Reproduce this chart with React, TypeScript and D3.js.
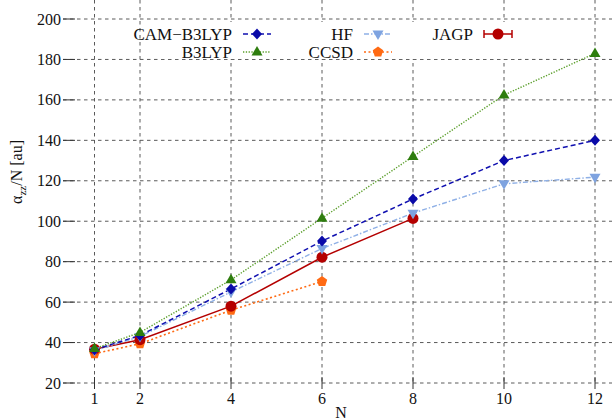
import React from "react";
import * as d3 from "d3";

const xsAll = [1, 2, 4, 6, 8, 10, 12];
const xTicks = [1, 2, 4, 6, 8, 10, 12];
const yTicks = [20, 40, 60, 80, 100, 120, 140, 160, 180, 200];

const camB3lyp = [36.5, 43.5, 66.5, 90.2, 111, 130, 140];
const hf = [36, 43, 65, 86.5, 104, 118.5, 121.8];
const b3lyp = [37, 45, 71, 101.5, 132, 162.4, 183];
const ccsd = [34.5, 39.4, 56, 70.2];
const jagp = [36.7, 41.4, 58, 82.2, 101.4];

const W = 615;
const H = 420;

const x = d3.scaleLinear().domain([1, 12]).range([94.5, 595]);
const y = d3.scaleLinear().domain([20, 200]).range([383, 19]);

const FONT = "Liberation Serif, DejaVu Serif, serif";

type Series = {
  name: string;
  values: number[];
  line: string;
  marker: string;
  dash: string;
  width: number;
  shape: string;
  legendCol: number;
  legendRow: number;
};

const series: Series[] = [
  { name: "CCSD", values: ccsd, line: "#ff6a13", marker: "#ff6a13", dash: "2,2.5", width: 1.6, shape: "pentagon", legendCol: 1, legendRow: 1 },
  { name: "JAGP", values: jagp, line: "#b40000", marker: "#b40000", dash: "", width: 1.5, shape: "circle", legendCol: 2, legendRow: 0 },
  { name: "HF", values: hf, line: "#8fb0e6", marker: "#7ea3e0", dash: "5,2,1.5,2", width: 1.4, shape: "triDown", legendCol: 1, legendRow: 0 },
  { name: "CAM\u2212B3LYP", values: camB3lyp, line: "#1010b0", marker: "#0a0aa8", dash: "5,3", width: 1.5, shape: "diamond", legendCol: 0, legendRow: 0 },
  { name: "B3LYP", values: b3lyp, line: "#5a9e2a", marker: "#2e7d0e", dash: "1.3,1.5", width: 1.4, shape: "triUp", legendCol: 0, legendRow: 1 },
];

function Marker({ shape, cx, cy, color }: { shape: string; cx: number; cy: number; color: string }) {
  if (shape === "circle") return <circle cx={cx} cy={cy} r={5.5} fill={color} />;
  if (shape === "diamond")
    return <path d={`M${cx},${cy - 5.5}L${cx + 5},${cy}L${cx},${cy + 5.5}L${cx - 5},${cy}Z`} fill={color} />;
  if (shape === "triUp")
    return <path d={`M${cx},${cy - 6}L${cx + 5.5},${cy + 3.5}L${cx - 5.5},${cy + 3.5}Z`} fill={color} />;
  if (shape === "triDown")
    return <path d={`M${cx},${cy + 6}L${cx + 5.5},${cy - 3.5}L${cx - 5.5},${cy - 3.5}Z`} fill={color} />;
  const r = 5.5;
  const pts = d3.range(5).map((i) => {
    const a = -Math.PI / 2 + (i * 2 * Math.PI) / 5;
    return `${cx + r * Math.cos(a)},${cy + r * Math.sin(a)}`;
  });
  return <polygon points={pts.join(" ")} fill={color} />;
}

export default function App() {
  const lineGen = d3
    .line<[number, number]>()
    .x((d) => x(d[0]))
    .y((d) => y(d[1]));

  const gridColor = "#5a5a5a";
  const legendTextX = [232, 353, 473];
  const legendRowY = [34, 52];
  const ts = { fontFamily: FONT };

  return (
    <svg width={W} height={H} style={{ position: "absolute", left: 0, top: 0, fontFamily: FONT }}>
      <rect width={W} height={H} fill="#fff" />
      {yTicks.map((t) => (
        <line key={"gy" + t} x1={63} x2={612} y1={y(t)} y2={y(t)} stroke={gridColor} strokeWidth={1} strokeDasharray="3.5,3.5" />
      ))}
      {xTicks.map((t) => (
        <line key={"gx" + t} x1={x(t)} x2={x(t)} y1={0} y2={383} stroke={gridColor} strokeWidth={1} strokeDasharray="3.5,3.5" />
      ))}
      {yTicks.map((t) => (
        <line key={"ty" + t} x1={63} x2={75} y1={y(t)} y2={y(t)} stroke="#333" strokeWidth={1} />
      ))}
      {xTicks.map((t) => (
        <line key={"tx" + t} x1={x(t)} x2={x(t)} y1={377} y2={389} stroke="#333" strokeWidth={1} />
      ))}
      {yTicks.map((t) => (
        <text key={"ly" + t} x={61} y={y(t)} dy="0.35em" textAnchor="end" fontSize={16} fill="#111" style={ts}>
          {t}
        </text>
      ))}
      {xTicks.map((t) => (
        <text key={"lx" + t} x={x(t)} y={404} textAnchor="middle" fontSize={16} fill="#111" style={ts}>
          {t}
        </text>
      ))}
      <text x={341} y={418} textAnchor="middle" fontSize={16} fill="#111" style={ts}>
        N
      </text>
      <text transform="translate(22,172) rotate(-90)" textAnchor="middle" fontSize={16} fill="#111" style={ts}>
        <tspan>α</tspan>
        <tspan fontSize={11} dy={4}>zz</tspan>
        <tspan dy={-4}>/N [au]</tspan>
      </text>
      <rect x={160} y={22} width={360} height={37} fill="#fff" />
      {series.map((s) => {
        const pts = s.values.map((v, i) => [xsAll[i], v] as [number, number]);
        return (
          <path key={"l" + s.name} d={lineGen(pts) || ""} fill="none" stroke={s.line} strokeWidth={s.width} strokeDasharray={s.dash || undefined} />
        );
      })}
      {series.map((s) =>
        s.values.map((v, i) => (
          <Marker key={"m" + s.name + i} shape={s.shape} cx={x(xsAll[i])} cy={y(v)} color={s.marker} />
        ))
      )}
      {series.map((s) => {
        const tx = legendTextX[s.legendCol];
        const ly = legendRowY[s.legendRow];
        const x1 = tx + 11;
        const x2 = tx + 39;
        const mx = tx + 25;
        return (
          <g key={"lg" + s.name}>
            <text x={tx} y={ly} dy="0.35em" textAnchor="end" fontSize={17} fill="#111" style={ts}>
              {s.name}
            </text>
            <line x1={x1} x2={x2} y1={ly} y2={ly} stroke={s.line} strokeWidth={s.width} strokeDasharray={s.dash || undefined} />
            {s.shape === "circle" && (
              <g stroke={s.line} strokeWidth={1.5}>
                <line x1={x1} x2={x1} y1={ly - 4} y2={ly + 4} />
                <line x1={x2} x2={x2} y1={ly - 4} y2={ly + 4} />
              </g>
            )}
            <Marker shape={s.shape} cx={mx} cy={ly} color={s.marker} />
          </g>
        );
      })}
    </svg>
  );
}
